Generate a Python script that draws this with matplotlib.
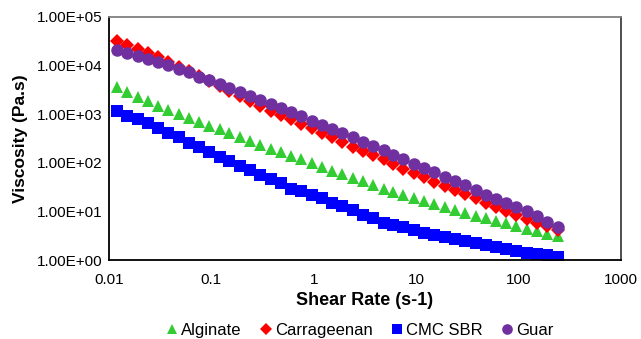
import matplotlib
matplotlib.use('Agg')
import matplotlib.pyplot as plt
from matplotlib.ticker import FixedLocator, FixedFormatter, NullLocator

plt.rcParams['font.family'] = ['Liberation Sans', 'DejaVu Sans']

# shear rate ramp (s-1)
shear_rate = [0.012, 0.015, 0.019, 0.024, 0.030, 0.038, 0.048, 0.060, 0.075, 0.095,
              0.12, 0.15, 0.19, 0.24, 0.30, 0.38, 0.48, 0.60, 0.75, 0.95,
              1.2, 1.5, 1.9, 2.4, 3.0, 3.8, 4.8, 6.0, 7.5, 9.5,
              12, 15, 19, 24, 30, 38, 48, 60, 75, 95,
              120, 150, 190, 240]

# viscosity (Pa.s)
alginate = [3680, 2840, 2290, 1870, 1490, 1220, 986, 824, 691, 577,
            489, 405, 340, 284, 237, 195, 164, 138, 118, 97.7,
            83.2, 68.7, 58.9, 48.7, 41.6, 35.4, 29.3, 25.1, 21.5, 19.1,
            16.4, 14.0, 12.1, 10.7, 9.40, 8.16, 7.21, 6.44, 5.69, 5.01,
            4.41, 3.95, 3.43, 3.12]
carrageenan = [32500, 26500, 21600, 17900, 14800, 11900, 9580, 7740, 6110, 4820,
               3800, 3000, 2370, 1870, 1480, 1190, 963, 778, 629, 508,
               410, 332, 268, 216, 175, 145, 117, 94.5, 76.3, 61.7,
               50.3, 40.8, 33.3, 27.6, 22.8, 18.6, 15.1, 12.5, 10.3, 8.55,
               7.08, 5.91, 4.89, 4.24]
cmc_sbr = [1160, 940, 808, 668, 527, 420, 344, 259, 208, 167,
           134, 107, 85.9, 70.1, 56.6, 45.7, 37.8, 29.3, 25.9, 21.4,
           18.9, 15.1, 12.9, 10.7, 8.55, 7.31, 5.85, 5.33, 4.71, 4.14,
           3.65, 3.22, 2.93, 2.67, 2.43, 2.21, 2.01, 1.88, 1.71, 1.55,
           1.41, 1.33, 1.25, 1.17]
guar = [20900, 18400, 16000, 13900, 12000, 10300, 8630, 7280, 5910, 4980,
        4180, 3460, 2860, 2370, 1960, 1620, 1320, 1090, 906, 735,
        608, 496, 410, 335, 272, 222, 181, 145, 118, 95.8,
        78.2, 63.8, 51.8, 42.8, 34.9, 27.2, 21.8, 18.0, 15.1, 12.3,
        10.2, 7.9, 6.0, 4.8]

x_ticks = [0.01, 0.1, 1, 10, 100, 1000]
x_tick_labels = ['0.01', '0.1', '1', '10', '100', '1000']
y_ticks = [1, 10, 100, 1000, 10000, 100000]
y_tick_labels = ['1.00E+00', '1.00E+01', '1.00E+02', '1.00E+03', '1.00E+04', '1.00E+05']

fig = plt.figure(figsize=(6.41, 3.39), dpi=100)
ax = fig.add_axes([109 / 641, 1 - 260 / 339, 512 / 641, 243 / 339])

ax.plot(shear_rate, alginate, ls='none', marker='^', ms=9, color='#33CC33',
        mew=0, label='Alginate')
ax.plot(shear_rate, carrageenan, ls='none', marker='D', ms=7.5, color='#FF0000',
        mew=0, label='Carrageenan')
ax.plot(shear_rate, cmc_sbr, ls='none', marker='s', ms=8.5, color='#0000FF',
        mew=0, label='CMC SBR')
ax.plot(shear_rate, guar, ls='none', marker='o', ms=9, color='#7030A0',
        mew=0, label='Guar')

ax.set_xscale('log')
ax.set_yscale('log')
ax.set_xlim(0.01, 1000)
ax.set_ylim(1, 100000)
ax.xaxis.set_major_locator(FixedLocator(x_ticks))
ax.xaxis.set_major_formatter(FixedFormatter(x_tick_labels))
ax.xaxis.set_minor_locator(NullLocator())
ax.yaxis.set_major_locator(FixedLocator(y_ticks))
ax.yaxis.set_major_formatter(FixedFormatter(y_tick_labels))
ax.yaxis.set_minor_locator(NullLocator())
ax.tick_params(axis='both', length=0, labelsize=11, colors='#000000')
ax.tick_params(axis='x', pad=9)
ax.tick_params(axis='y', pad=5)

for side in ['left', 'bottom']:
    ax.spines[side].set_color('#000000')
    ax.spines[side].set_linewidth(1.3)
ax.spines['top'].set_color('#808080')
ax.spines['top'].set_linewidth(1.3)
ax.spines['right'].set_color('#404040')
ax.spines['right'].set_linewidth(1.3)

ax.set_xlabel('Shear Rate (s-1)', fontsize=13, fontweight='bold', labelpad=4)
ax.set_ylabel('Viscosity (Pa.s)', fontsize=12.5, fontweight='bold', labelpad=6)

handles, labels = ax.get_legend_handles_labels()
fig.legend(handles, labels, loc='center', bbox_to_anchor=(360 / 641, 0.026),
           ncol=4, frameon=False, fontsize=12, markerscale=0.85,
           handlelength=0.7, handletextpad=0.2, columnspacing=1.1)

fig.savefig('out.png', dpi=100)
